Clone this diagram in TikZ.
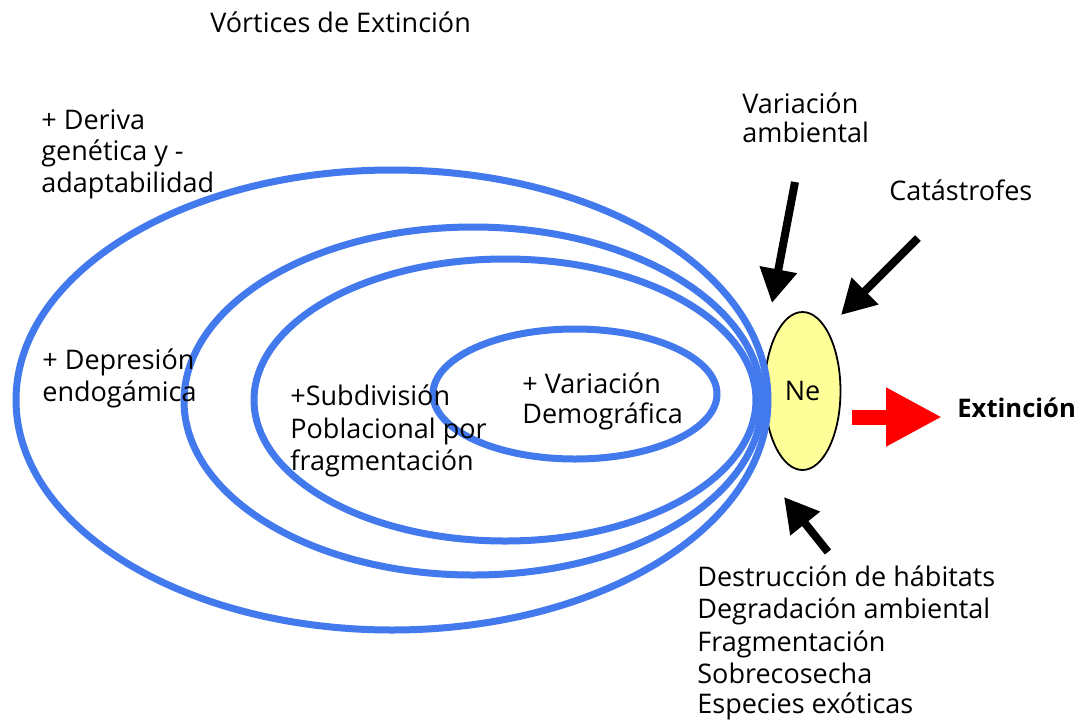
\documentclass[tikz,border=0pt]{standalone}
\usepackage{fontspec}
\setmainfont{Open Sans}
\usetikzlibrary{shapes.geometric,arrows.meta}
\definecolor{ringblue}{RGB}{66,121,236}
\definecolor{neyellow}{RGB}{255,255,153}
\begin{document}
\begin{tikzpicture}[x=0.5pt,y=-0.5pt,
  ring/.style={draw=ringblue,line width=3.5pt},
  lbl/.style={font=\fontsize{13.5}{16}\selectfont,inner sep=0pt,anchor=base west},
  blackarrow/.style={draw=black,line width=4pt,-{Triangle[length=17pt,width=18pt]}},
  redarrow/.style={draw=red,line width=7.5pt,-{Triangle[length=28pt,width=27.5pt]}}]
\path[use as bounding box,fill=white] (0,0) rectangle (1078,719);

% Ne
\node[ellipse,draw=black,line width=0.9pt,fill=neyellow,minimum width=38pt,minimum height=79pt,inner sep=0pt,
  font=\fontsize{13.5}{16}\selectfont] (ne) at (802.5,391) {Ne};

% rings
\draw[ring] (392,400) ellipse [x radius=376,y radius=230];
\draw[ring] (473,401) ellipse [x radius=289,y radius=174];
\draw[ring] (505,400) ellipse [x radius=251,y radius=141];
\draw[ring] (575,394) ellipse [x radius=142,y radius=65];

% labels
\node[lbl] (title) at (210,32) {Vórtices de Extinción};
\node[lbl] (d1) at (41,129) {+ Deriva};
\node[lbl] (d2) at (41,160) {genética y -};
\node[lbl] (d3) at (41,192) {adaptabilidad};
\node[lbl] (e1) at (42,369) {+ Depresión};
\node[lbl] (e2) at (42,401) {endogámica};
\node[lbl] (s1) at (290,405) {+Subdivisión};
\node[lbl] (s2) at (290,438) {Poblacional por};
\node[lbl] (s3) at (290,470) {fragmentación};
\node[lbl] (v1) at (522,393) {+ Variación};
\node[lbl] (v2) at (522,423) {Demográfica};
\node[lbl] (a1) at (742,113) {Variación};
\node[lbl] (a2) at (742,142) {ambiental};
\node[lbl] (cat) at (889,200) {Catástrofes};
\node[lbl,font=\fontsize{12.8}{16}\selectfont\bfseries] (ext) at (957,417) {Extinción};
\node[lbl] (b1) at (697,586) {Destrucción de hábitats};
\node[lbl] (b2) at (697,618) {Degradación ambiental};
\node[lbl] (b3) at (697,651) {Fragmentación};
\node[lbl] (b4) at (697,683) {Sobrecosecha};
\node[lbl] (b5) at (697,713) {Especies exóticas};

% arrows
\coordinate (t1) at (795,182); \coordinate (h1) at (772,303);
\coordinate (t2) at (918,238); \coordinate (h2) at (841,315);
\coordinate (t3) at (828,552); \coordinate (h3) at (784,497);
\coordinate (t4) at (852,417); \coordinate (h4) at (942,417);
\draw[blackarrow] (t1) -- (h1);
\draw[blackarrow] (t2) -- (h2);
\draw[blackarrow] (t3) -- (h3);
\draw[redarrow] (t4) -- (h4);
\end{tikzpicture}
\end{document}
